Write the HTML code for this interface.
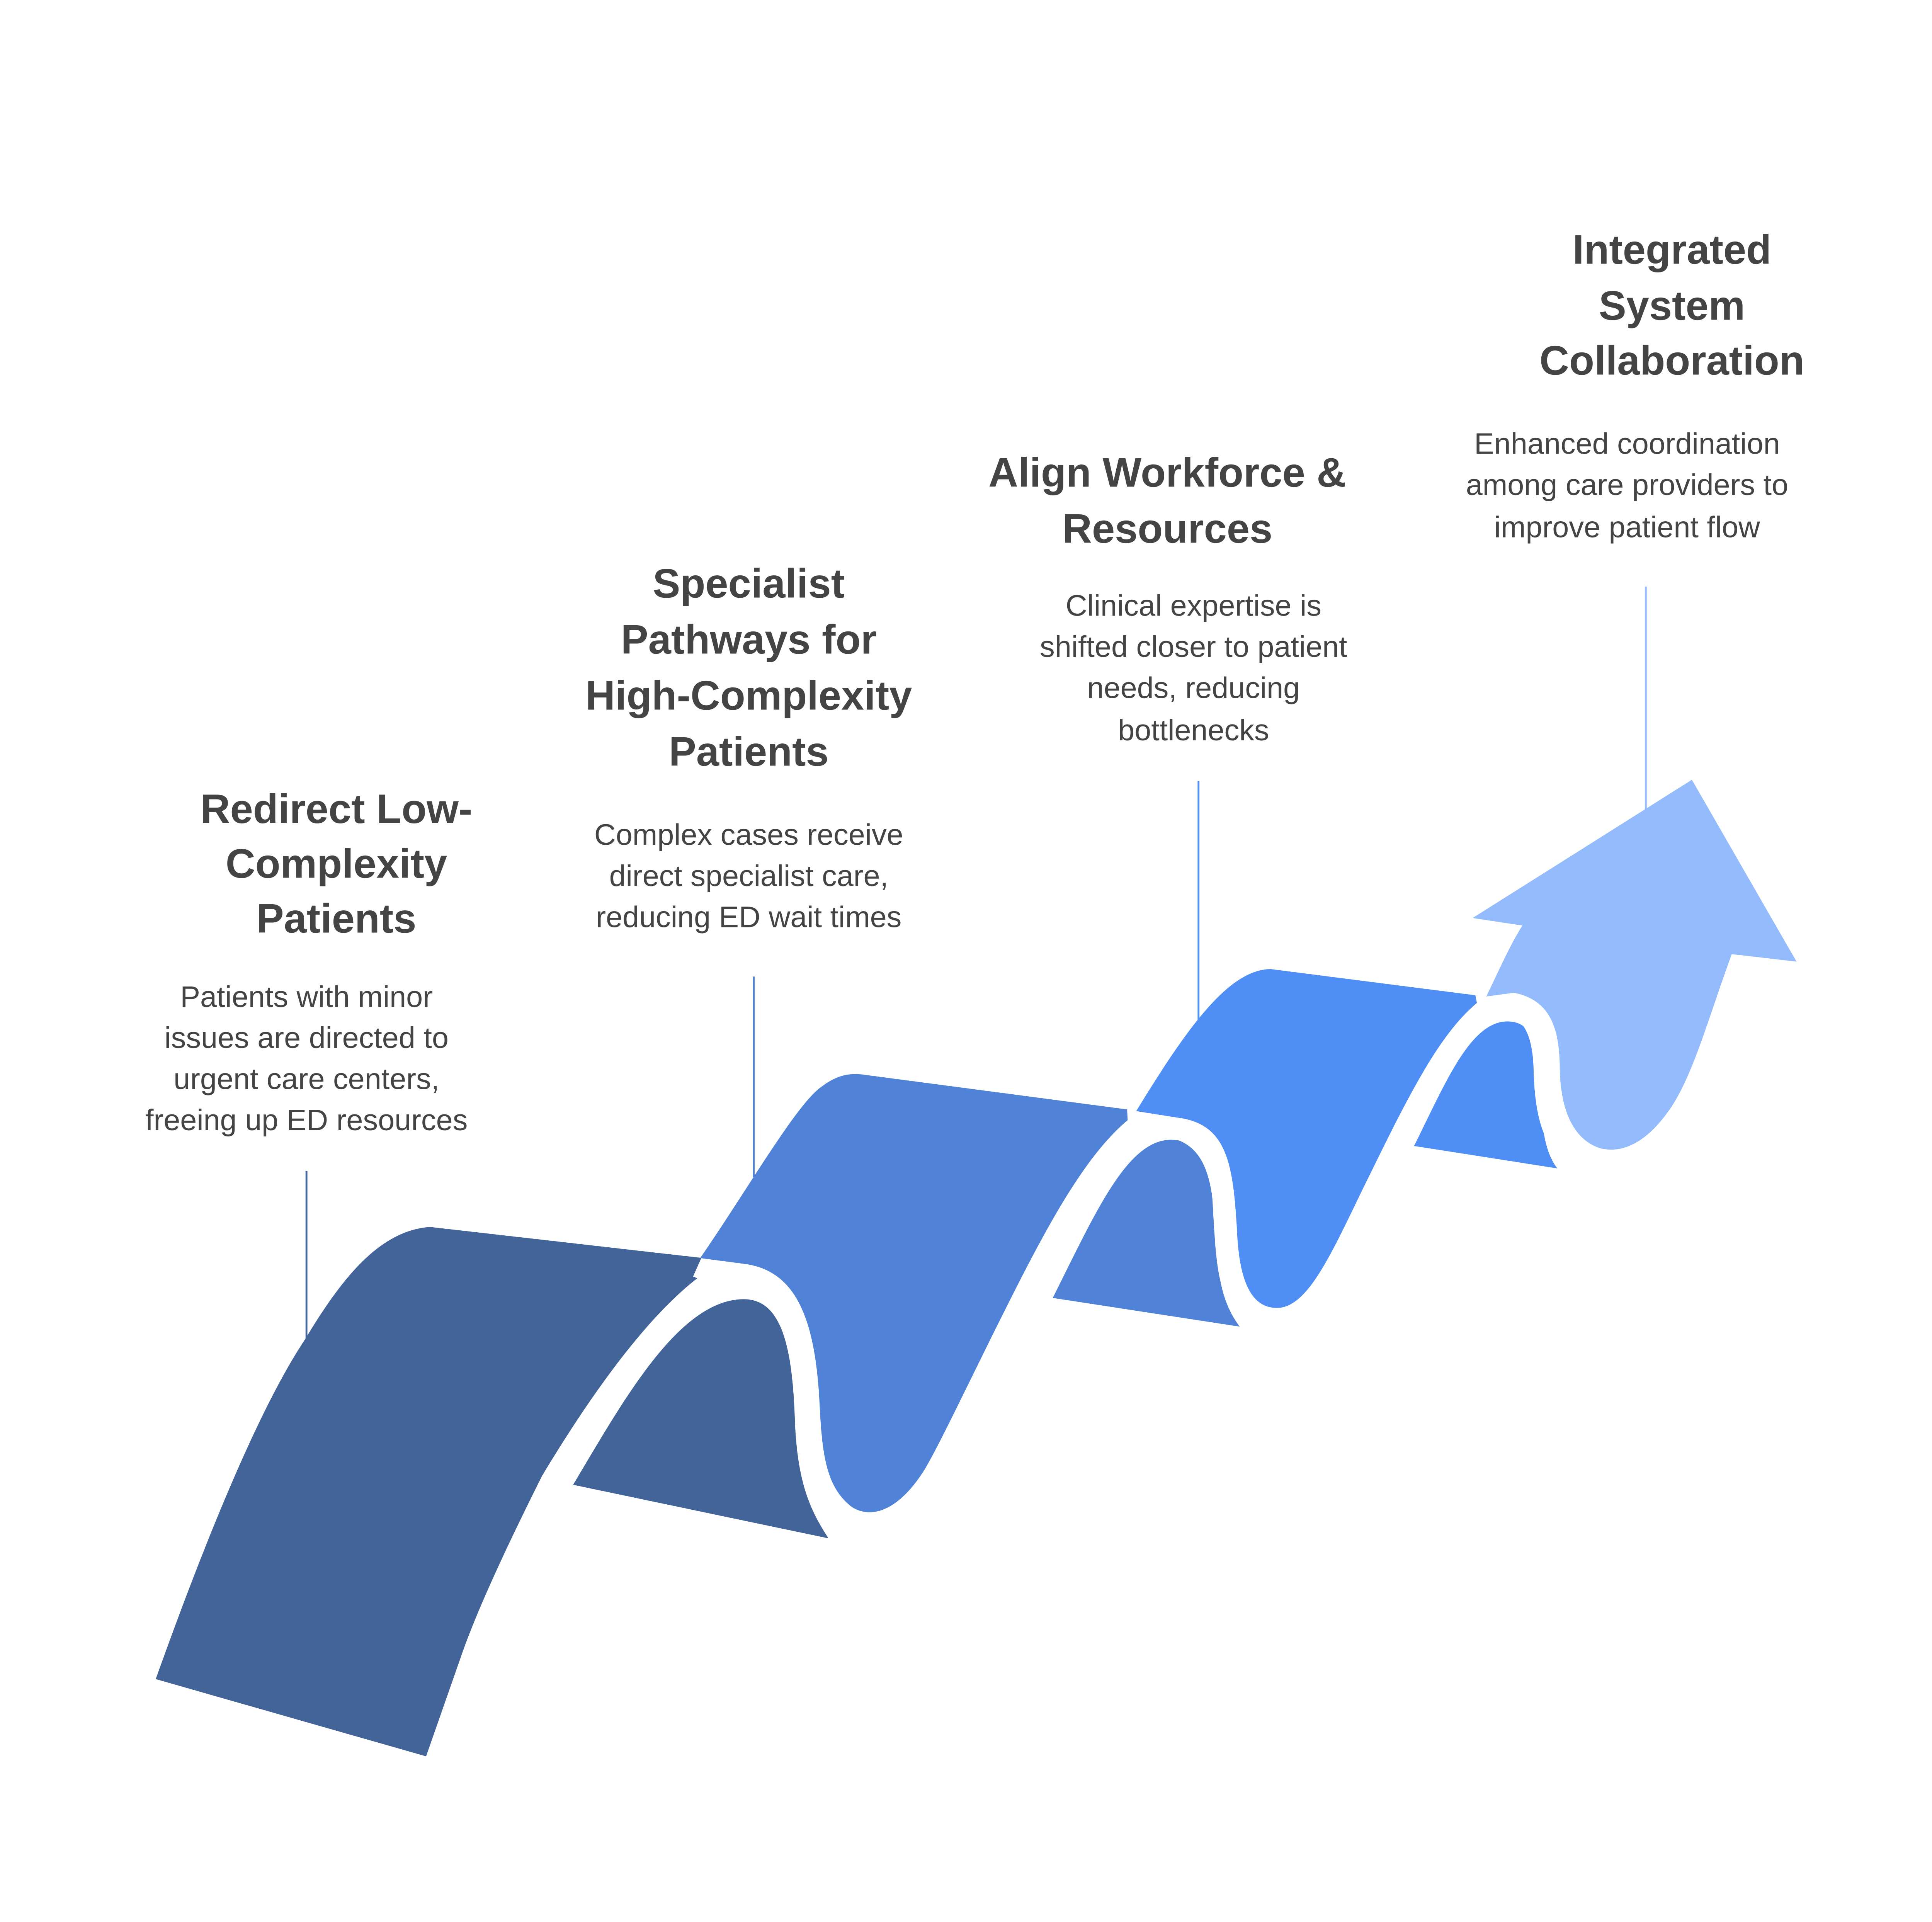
<!DOCTYPE html>
<html><head><meta charset="utf-8"><style>
html,body{margin:0;padding:0;background:#fff;}
svg{display:block;}
text{font-family:"Liberation Sans",Arial,sans-serif;fill:#444;text-anchor:middle;dominant-baseline:middle;}
.t{font-weight:bold;font-size:33px;}
.d{font-size:24px;}
</style></head><body>
<svg width="5046" height="4974" viewBox="0 0 1565 1543" preserveAspectRatio="none" xmlns="http://www.w3.org/2000/svg">
<rect width="1565" height="1543" fill="#fff"/>
<line x1="246" y1="940" x2="246" y2="1078" stroke="#426499" stroke-width="1.5"/>
<line x1="605" y1="784" x2="605" y2="945" stroke="#5083d8" stroke-width="1.5"/>
<line x1="962" y1="627" x2="962" y2="820" stroke="#4f8ff5" stroke-width="1.5"/>
<line x1="1321" y1="471" x2="1321" y2="650" stroke="#94bbfc" stroke-width="1.5"/>

<path d="M125,1348 C160,1250 205,1135 245,1075 C275,1025 305,988 345,985 L582,1012 C545,1030 495,1085 435,1185 C405,1245 382,1295 370,1330 L342,1410 Z" fill="#426499"/>
<path d="M460,1192 C500,1125 545,1043 597,1043 C627,1043 636,1080 638,1140 C640,1190 650,1212 665,1235 Z" fill="#426499"/>
<path d="M562,1012 C580,1020 595,1015 610,1018 C640,1028 650,1070 652,1135 C654,1180 665,1205 680,1215" fill="none" stroke="#fff" stroke-width="28"/>
<path d="M562,1010 C600,955 640,885 660,872 C672,863 682,861 695,863 L915,892 C875,918 840,985 805,1055 C775,1115 755,1158 742,1180 C722,1212 700,1220 684,1210 C664,1195 660,1170 658,1130 C655,1065 642,1022 600,1015 Z" fill="#5083d8"/>
<path d="M845,1042 C880,972 905,915 940,915 C966,915 975,942 976,990 C977,1032 984,1050 995,1065 Z" fill="#5083d8"/>
<path d="M905,897 C950,895 980,905 987,960 C990,1010 990,1040 1010,1052" fill="none" stroke="#fff" stroke-width="28"/>
<path d="M912,892 C950,830 985,778 1020,778 L1192,800 C1162,822 1140,860 1102,938 C1072,998 1052,1050 1025,1050 C1005,1050 995,1030 993,990 C990,935 985,905 950,898 Z" fill="#4f8ff5"/>
<path d="M1135,920 C1160,870 1180,820 1210,820 C1230,820 1236,840 1236,870 C1237,905 1240,925 1250,938 Z" fill="#4f8ff5"/>
<path d="M1185,803 C1225,795 1244,812 1245,860 C1246,900 1255,918 1270,925" fill="none" stroke="#fff" stroke-width="28"/>
<path d="M1193,800 C1205,775 1213,757 1222,743 L1182,737 L1358,626 L1442,772 L1390,766 C1372,815 1360,860 1342,888 C1322,918 1302,926 1285,922 C1262,915 1253,890 1252,860 C1252,830 1247,803 1215,797 Z" fill="#94bbfc"/>

<text class="t" x="270" y="652">Redirect Low-</text>
<text class="t" x="270" y="696">Complexity</text>
<text class="t" x="270" y="740">Patients</text>
<text class="d" x="246" y="802">Patients with minor</text>
<text class="d" x="246" y="835">issues are directed to</text>
<text class="d" x="246" y="868">urgent care centers,</text>
<text class="d" x="246" y="901">freeing up ED resources</text>

<text class="t" x="601" y="471">Specialist</text>
<text class="t" x="601" y="516">Pathways for</text>
<text class="t" x="601" y="561">High-Complexity</text>
<text class="t" x="601" y="606">Patients</text>
<text class="d" x="601" y="672">Complex cases receive</text>
<text class="d" x="601" y="705">direct specialist care,</text>
<text class="d" x="601" y="738">reducing ED wait times</text>

<text class="t" x="937" y="382">Align Workforce &amp;</text>
<text class="t" x="937" y="427">Resources</text>
<text class="d" x="958" y="488">Clinical expertise is</text>
<text class="d" x="958" y="521">shifted closer to patient</text>
<text class="d" x="958" y="554">needs, reducing</text>
<text class="d" x="958" y="588">bottlenecks</text>

<text class="t" x="1342" y="203">Integrated</text>
<text class="t" x="1342" y="248">System</text>
<text class="t" x="1342" y="292">Collaboration</text>
<text class="d" x="1306" y="358">Enhanced coordination</text>
<text class="d" x="1306" y="391">among care providers to</text>
<text class="d" x="1306" y="425">improve patient flow</text>
</svg>
</body></html>
